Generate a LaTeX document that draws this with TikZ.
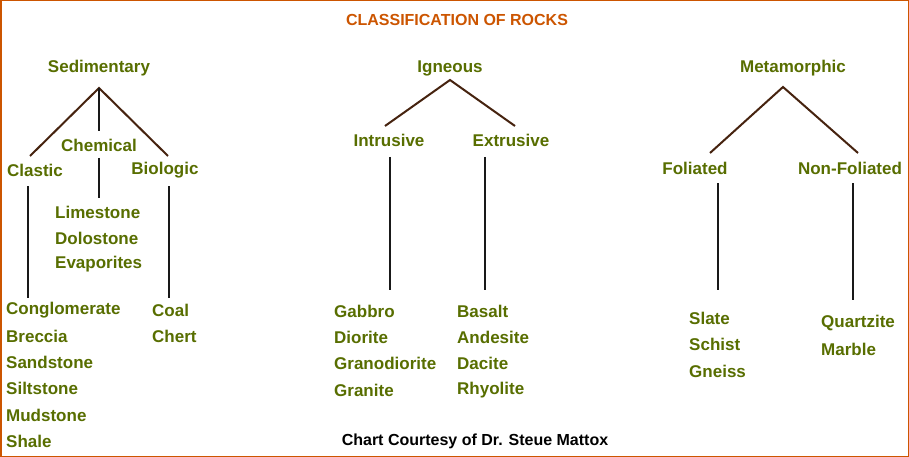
\documentclass[tikz,border=0pt]{standalone}
\usepackage{fontspec}
\setmainfont{Liberation Sans}
\definecolor{rk}{RGB}{88,110,0}
\definecolor{tt}{RGB}{204,85,0}
\definecolor{br}{RGB}{70,35,15}
\begin{document}
\begin{tikzpicture}[x=1pt,y=-1pt,
 lbl/.style={text=rk,font=\fontsize{17}{17}\selectfont\bfseries,inner sep=0pt},
 lst/.style={lbl,anchor=west},
 diag/.style={br,line width=2pt},
 vert/.style={black!90,line width=2.5pt}]
\draw[tt,line width=1.5pt,fill=white] (0.75,0.75) rectangle (908.25,456.25);
\node[text=tt,font=\fontsize{16}{16}\selectfont\bfseries,inner sep=0pt] (title) at (457,20) {CLASSIFICATION OF ROCKS};
% Sedimentary
\node[lbl] (sed) at (99,68) {Sedimentary};
\coordinate (sa) at (99,88);
\node[lbl] (cla) at (35,170) {Clastic};
\node[lbl] (che) at (99,145) {Chemical};
\node[lbl] (bio) at (165,170) {Biologic};
\coordinate (c1) at (30,156); \coordinate (b1) at (168,156);
\draw[diag] (c1) -- (sa) -- (b1);
\coordinate (sv) at (99,131);
\draw[vert] (sa) -- (sv);
\coordinate (ch1) at (99,158); \coordinate (ch2) at (99,198);
\draw[vert] (ch1) -- (ch2);
\coordinate (cl1) at (28,186); \coordinate (cl2) at (28,298);
\draw[vert] (cl1) -- (cl2);
\coordinate (bi1) at (169,186); \coordinate (bi2) at (169,298);
\draw[vert] (bi1) -- (bi2);
\node[lst] (l1) at (55,212) {Limestone};
\node[lst] (l2) at (55,238) {Dolostone};
\node[lst] (l3) at (55,264) {Evaporites};
\node[lst] (k1) at (6,310) {Conglomerate};
\node[lst] (k2) at (6,336) {Breccia};
\node[lst] (k3) at (6,362) {Sandstone};
\node[lst] (k4) at (6,388) {Siltstone};
\node[lst] (k5) at (6,415) {Mudstone};
\node[lst] (k6) at (6,441) {Shale};
\node[lst] (o1) at (152,310) {Coal};
\node[lst] (o2) at (152,336) {Chert};
% Igneous
\node[lbl] (ign) at (450,68) {Igneous};
\coordinate (ia) at (450,80);
\coordinate (i1) at (385,126); \coordinate (i2) at (515,126);
\draw[diag] (i1) -- (ia) -- (i2);
\node[lbl] (int) at (389,140) {Intrusive};
\node[lbl] (ext) at (511,140) {Extrusive};
\coordinate (iv1) at (390,157); \coordinate (iv2) at (390,290);
\coordinate (ev1) at (485,157); \coordinate (ev2) at (485,290);
\draw[vert] (iv1) -- (iv2); \draw[vert] (ev1) -- (ev2);
\node[lst] (g1) at (334,311) {Gabbro};
\node[lst] (g2) at (334,337) {Diorite};
\node[lst] (g3) at (334,363) {Granodiorite};
\node[lst] (g4) at (334,390) {Granite};
\node[lst] (e1) at (457,311) {Basalt};
\node[lst] (e2) at (457,337) {Andesite};
\node[lst] (e3) at (457,363) {Dacite};
\node[lst] (e4) at (457,390) {Rhyolite};
% Metamorphic
\node[lbl] (met) at (793,68) {Metamorphic};
\coordinate (ma) at (783,87);
\coordinate (m1) at (710,153); \coordinate (m2) at (858,153);
\draw[diag] (m1) -- (ma) -- (m2);
\node[lbl] (fol) at (695,168) {Foliated};
\node[lbl] (nfo) at (850,168) {Non-Foliated};
\coordinate (fv1) at (718,183); \coordinate (fv2) at (718,290);
\coordinate (nv1) at (853,183); \coordinate (nv2) at (853,300);
\draw[vert] (fv1) -- (fv2); \draw[vert] (nv1) -- (nv2);
\node[lst] (s1) at (689,318) {Slate};
\node[lst] (s2) at (689,344) {Schist};
\node[lst] (s3) at (689,371) {Gneiss};
\node[lst] (q1) at (821,323) {Quartzite};
\node[lst] (q2) at (821,349) {Marble};
\node[font=\fontsize{16}{16}\selectfont\bfseries,inner sep=0pt] (cr) at (475,441) {Chart Courtesy of Dr. Steue Mattox};
\end{tikzpicture}
\end{document}
